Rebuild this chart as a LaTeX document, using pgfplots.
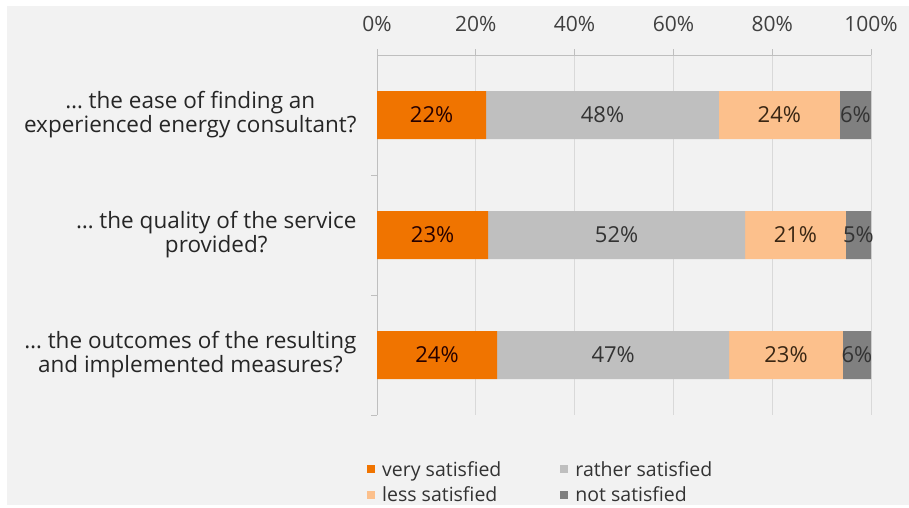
\documentclass[border=0pt]{standalone}
\usepackage{fontspec}
\setmainfont{Open Sans}
\usepackage{pgfplots}
\usepackage{pgfplotstable}
\pgfplotsset{compat=1.18}
\definecolor{cvery}{HTML}{F07400}
\definecolor{crather}{HTML}{BFBFBF}
\definecolor{cless}{HTML}{FCC08C}
\definecolor{cnot}{HTML}{808080}
\definecolor{bg}{HTML}{F2F2F2}
\definecolor{axgray}{HTML}{BFBFBF}
\definecolor{gridgray}{HTML}{D9D9D9}

\pgfplotstableread{
y val lab
0 22.1 22
1 22.5 23
2 24.3 24
}\tvery
\pgfplotstableread{
y val lab
0 47.1 48
1 52.0 52
2 47.0 47
}\trather
\pgfplotstableread{
y val lab
0 24.5 24
1 20.4 21
2 23.0 23
}\tless
\pgfplotstableread{
y val lab
0 6.3 6
1 5.1 5
2 5.7 6
}\tnot

\begin{document}
\begin{tikzpicture}[x=1pt,y=1pt]
\fill[white] (0,0) rectangle (909,-507);
\fill[bg] (7,-6) rectangle (909,-505);
\begin{axis}[
  at={(377pt,-415pt)}, anchor=south west,
  scale only axis, width=494pt, height=360pt,
  xbar stacked, bar width=48pt,
  xmin=0, xmax=100, ymin=-0.5, ymax=2.5, y dir=reverse,
  axis x line*=top, axis y line*=left,
  axis line style={draw=axgray, line width=0.8pt},
  xmajorgrids, grid style={draw=gridgray, line width=0.8pt},
  xtick={0,20,40,60,80,100},
  /pgf/number format/assume math mode=true,
  xticklabel={\pgfmathprintnumber{\tick}\%},
  xticklabel style={font=\fontsize{21}{24}\selectfont, text=black!75, yshift=14pt},
  tick align=outside, major tick length=6pt,
  x tick style={draw=axgray, line width=0.8pt},
  ytick={0,1,2},
  yticklabels={{… the ease of finding an\\experienced energy consultant?},
               {… the quality of the service\\provided?},
               {… the outcomes of the resulting\\and implemented measures?}},
  yticklabel style={align=center, font=\fontsize{22.5}{24}\selectfont, text=black!85, xshift=-11pt},
  y tick style={draw=none},
  extra y ticks={0.5,1.5,2.5}, extra y tick labels={},
  extra y tick style={y tick style={draw=axgray, line width=0.8pt}},
  nodes near coords={\pgfplotspointmeta\%},
  point meta=explicit symbolic,
  every node near coord/.append style={font=\fontsize{22}{24}\selectfont},
  legend columns=2,
  legend cell align=left,
  legend style={at={(0,0)}, anchor=north west, xshift=-13pt, yshift=-42pt,
    draw=none, fill=none, font=\fontsize{19.5}{22}\selectfont, text=black!80,
    /tikz/every even column/.append style={column sep=57pt},
    row sep=5pt},
  legend image code/.code={\fill[#1] (0pt,-4pt) rectangle (8pt,4pt); \path (13pt,0pt);},
]
\addplot[fill=cvery, draw=none, every node near coord/.append style={text=black!75!red!60!black}] table[x=val, y=y, meta=lab] {\tvery};
\addplot[fill=crather, draw=none, every node near coord/.append style={text=black!80}] table[x=val, y=y, meta=lab] {\trather};
\addplot[fill=cless, draw=none, every node near coord/.append style={text=black!70!brown}] table[x=val, y=y, meta=lab] {\tless};
\addplot[fill=cnot, draw=none, every node near coord/.append style={text=black!80}] table[x=val, y=y, meta=lab] {\tnot};
\legend{very satisfied, rather satisfied, less satisfied, not satisfied}
\end{axis}
\end{tikzpicture}
\end{document}
